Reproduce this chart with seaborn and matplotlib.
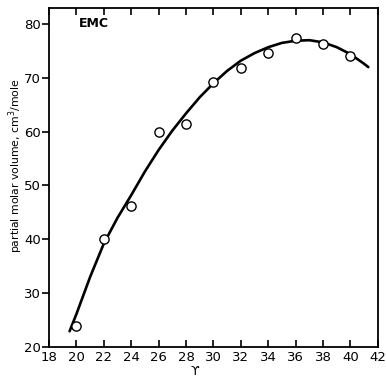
"""Partial molar volume of EMC: measured points and the smooth curve through them."""

import matplotlib
matplotlib.use("Agg")
import matplotlib.pyplot as plt
import pandas as pd
import seaborn as sns

# measured points
gamma_pts = [20, 22, 24, 26, 28, 30, 32, 34, 36, 38, 40]
volume_pts = [23.8, 40.0, 46.2, 60.0, 61.4, 69.2, 71.8, 74.7, 77.4, 76.3, 74.1]

# drawn curve
gamma_curve = [19.5, 20, 21, 22, 23, 24, 25, 26, 27, 28, 29, 30, 31, 32,
               33, 34, 35, 36, 37, 38, 39, 40, 41, 41.3]
volume_curve = [22.9, 26.1, 33.0, 39.2, 44.0, 48.2, 52.6, 56.6, 60.2, 63.4,
                66.4, 69.0, 71.3, 73.2, 74.6, 75.7, 76.5, 76.9, 77.0, 76.6,
                75.7, 74.4, 72.6, 72.0]

x_ticks = list(range(18, 43, 2))
y_ticks = [20, 30, 40, 50, 60, 70, 80]


def main():
    sns.set_style("ticks")
    plt.rcParams["font.family"] = ["DejaVu Sans"]

    pts = pd.DataFrame({"g": gamma_pts, "v": volume_pts})
    curve = pd.DataFrame({"g": gamma_curve, "v": volume_curve})

    fig = plt.figure(figsize=(3.86, 3.77), dpi=100)
    ax = fig.add_axes([0.127, 0.080, 0.852, 0.899])

    sns.lineplot(data=curve, x="g", y="v", ax=ax, color="black", lw=1.9,
                 sort=False)
    sns.scatterplot(data=pts, x="g", y="v", ax=ax, s=44, marker="o",
                    facecolor="white", edgecolor="black", linewidth=1.0,
                    zorder=3)

    ax.set_xlim(18, 42)
    ax.set_ylim(20, 83)
    ax.set_xticks(x_ticks)
    ax.set_yticks(y_ticks)
    ax.tick_params(axis="x", direction="in", length=5, width=1.2,
                   labelsize=9.5, pad=3, top=True, colors="black")
    ax.tick_params(axis="y", direction="out", length=5, width=1.2,
                   labelsize=9.5, pad=1, colors="black")
    for side in ["top", "right", "bottom", "left"]:
        ax.spines[side].set_visible(True)
        ax.spines[side].set_linewidth(1.3)
        ax.spines[side].set_color("black")

    ax.set_xlabel("ϒ", fontsize=9, color="black")
    ax.xaxis.set_label_coords(0.444, -0.072)
    ax.xaxis.label.set_va("center")
    ax.set_ylabel("partial molar volume, cm$^3$/mole", fontsize=7.8,
                  color="black")
    ax.yaxis.set_label_coords(-0.102, 0.534)
    ax.yaxis.label.set_va("center")
    ax.text(0.09, 0.955, "EMC", transform=ax.transAxes, fontsize=9,
            fontweight="bold", va="center", ha="left", color="black")

    fig.savefig("out.png", dpi=100)


if __name__ == "__main__":
    main()
